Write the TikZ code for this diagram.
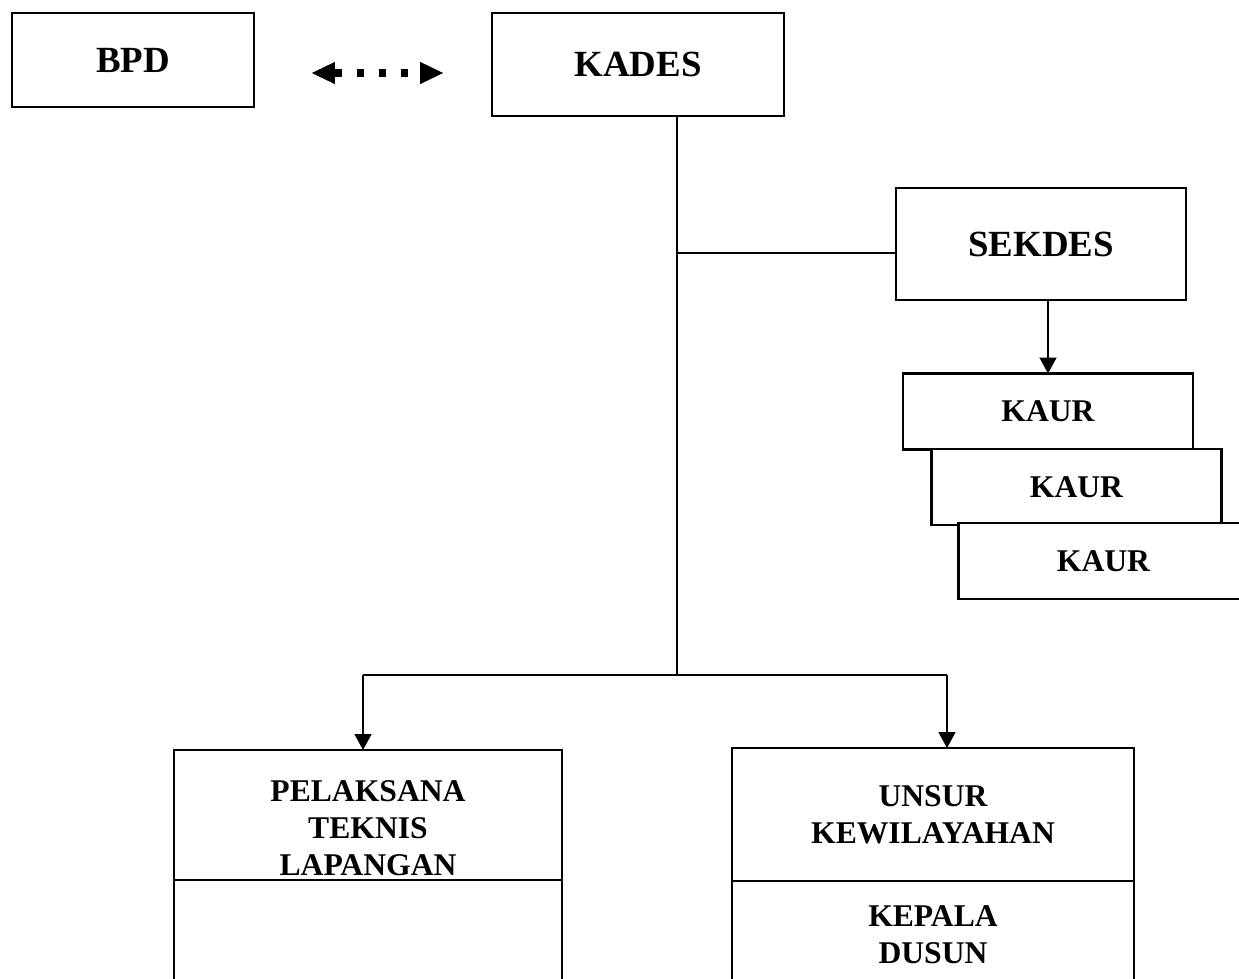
\documentclass[tikz,border=0pt]{standalone}
\usepackage{fontspec}
\setmainfont{Liberation Serif}
\usetikzlibrary{arrows.meta,positioning,calc}

\begin{document}
\begin{tikzpicture}[x=0.02cm, y=-0.02cm, font=\bfseries,
  unit/.style={draw, line width=1.3pt, fill=white, align=center, inner sep=0pt, outer sep=0pt},
  topunit/.style={unit, font=\fontsize{21}{24}\selectfont\bfseries},
  kaurunit/.style={unit, minimum width=5.8cm, minimum height=1.52cm, font=\fontsize{18}{21}\selectfont\bfseries},
  subunit/.style={unit, font=\fontsize{18}{21}\selectfont\bfseries},
  link/.style={line width=1.1pt},
  arr/.style={link, -{Triangle[length=9pt, width=9.5pt]}},
  dotarr/.style={line width=4pt, dash pattern=on 4pt off 8.5pt,
    {Triangle[length=13pt, width=12.5pt, line width=0.4pt]}-{Triangle[length=13pt, width=12.5pt, line width=0.4pt]}}]
\clip (0,0) rectangle (1239,978);
% top row
\node[topunit, minimum width=4.84cm, minimum height=1.88cm] (bpd) at (133,60) {BPD};
\node[topunit, minimum width=5.84cm, minimum height=2.06cm] (kades) at (638,64.5) {KADES};
\node[topunit, minimum width=5.8cm, minimum height=2.24cm] (sekdes) at (1041,244) {SEKDES};
% kaur stack
\node[kaurunit] (kaur1) at (1048,411.5) {KAUR};
\node[kaurunit] (kaur2) at (1076.5,487) {KAUR};
\node[kaurunit] (kaur3) at (1103.5,561) {KAUR};
% lower units
\node[subunit, minimum width=7.76cm, minimum height=2.6cm, anchor=north] (tkl) at (368,750) {};
\node[subunit, draw=none, fill=none] (tkltext) at ($(tkl.center)+(0,13)$) {PELAKSANA\\TEKNIS\\LAPANGAN};
\node[subunit, minimum width=7.76cm, minimum height=2.4cm, below=0pt of tkl] (tklbot) {};
\node[subunit, minimum width=8.04cm, minimum height=2.66cm, anchor=north] (kew) at (933,748) {UNSUR\\KEWILAYAHAN};
\node[subunit, minimum width=8.04cm, minimum height=2.14cm, below=0pt of kew] (dusun) {KEPALA\\DUSUN};
% connectors
\coordinate (fork) at (677,675);
\coordinate (sjoin) at (677,253);
\coordinate (lsplit) at (363,675);
\coordinate (rsplit) at (947,675);
\draw[link] (kades.south -| fork) -- (fork);
\draw[link] (sjoin) -- (sjoin -| sekdes.west);
\draw[arr] (sekdes.south -| kaur1.north) -- (kaur1.north);
\draw[link] (lsplit) -- (rsplit);
\draw[arr] (lsplit) -- (lsplit |- tkl.north);
\draw[arr] (rsplit) -- (rsplit |- kew.north);
\draw[dotarr, shorten <=1.16cm, shorten >=0.98cm] ([yshift=-0.26cm]bpd.east) -- ([yshift=-0.26cm]bpd.east -| kades.west);
\end{tikzpicture}
\end{document}
